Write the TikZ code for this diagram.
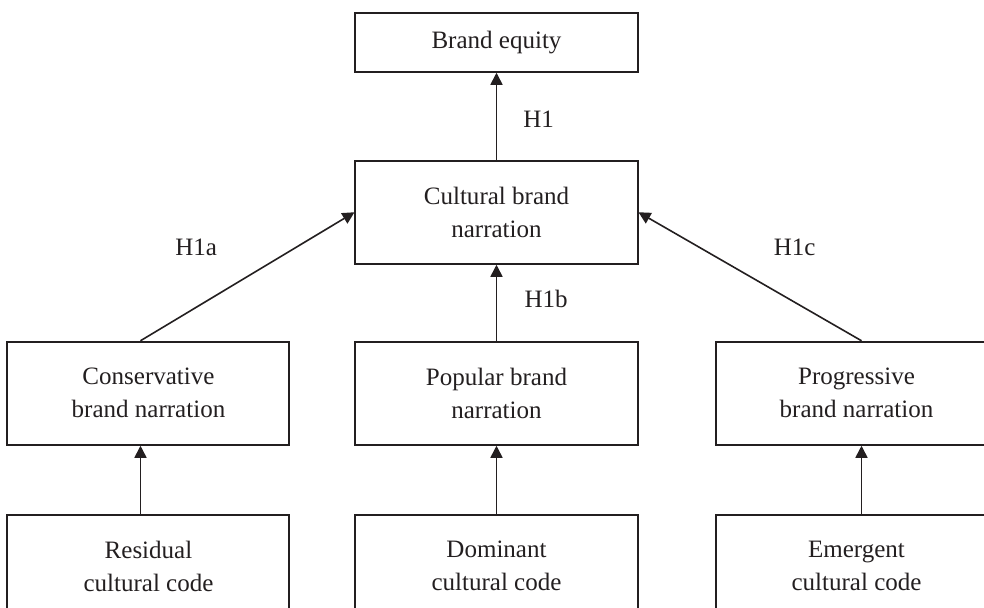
\documentclass[tikz,border=0pt]{standalone}
\usepackage{fontspec}
\setmainfont{Liberation Serif}
\usepackage{xcolor}
\usepackage{tikz}
\usetikzlibrary{arrows.meta, positioning}

\definecolor{linegray}{HTML}{231F20}

\begin{document}
\begin{tikzpicture}[
    node distance=2.175cm and 1.6cm,
    every node/.style={text=linegray, font=\fontsize{17.8}{23.5}\selectfont},
    box/.style={rectangle, draw=linegray, line width=0.05cm, minimum width=7.05cm, minimum height=2.575cm, align=center, inner sep=0pt},
    arrow/.style={-{Triangle[length=0.3cm, width=0.3cm]}, line width=0.04cm, draw=linegray},
    lab/.style={inner sep=0pt}
]
\useasboundingbox (-12.4125,-14.11875) rectangle (12.1875,1.05625);
\clip (-12.4125,-14.11875) rectangle (12.1875,1.05625);

\node (equity) [box, minimum height=1.475cm] at (0,0) {Brand equity};
\node (cultural) [box, below=of equity] {Cultural brand\\narration};
\node (pop) [box, below=1.9cm of cultural] {Popular brand\\narration};
\node (cons) [box, left=of pop] {Conservative\\brand narration};
\node (prog) [box, right=1.9cm of pop] {Progressive\\brand narration};
\node (dom) [box, below=1.7cm of pop] {Dominant\\cultural code};
\node (res) [box, below=1.7cm of cons] {Residual\\cultural code};
\node (emer) [box, below=1.7cm of prog] {Emergent\\cultural code};

\draw [arrow] (cultural) -- node[lab, pos=0.47, right=0.65cm] (h1) {H1} (equity);
\draw [arrow] ([xshift=-0.2cm]cons.north) -- node[lab, pos=0.26, yshift=1.49cm] (h1a) {H1a} (cultural.west);
\draw [arrow] (pop) -- node[lab, pos=0.55, right=0.68cm] (h1b) {H1b} (cultural);
\draw [arrow] ([xshift=0.125cm]prog.north) -- node[lab, pos=0.3, yshift=1.37cm] (h1c) {H1c} (cultural.east);
\draw [arrow] ([xshift=-0.2cm]res.north) -- ([xshift=-0.2cm]cons.south);
\draw [arrow] (dom) -- (pop);
\draw [arrow] ([xshift=0.125cm]emer.north) -- ([xshift=0.125cm]prog.south);
\end{tikzpicture}
\end{document}
